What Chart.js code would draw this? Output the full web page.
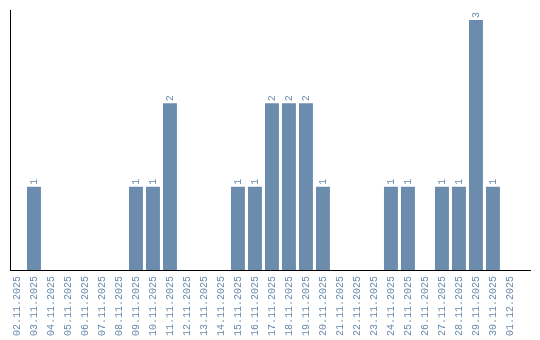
<!DOCTYPE html>
<html>
<head>
<meta charset="utf-8">
<script src="https://cdn.jsdelivr.net/npm/chart.js@4/dist/chart.umd.min.js"></script>
<style>
html,body{margin:0;padding:0;background:#fff;}
#wrap{width:540px;height:340px;position:relative;}
</style>
</head>
<body>
<div id="wrap"><canvas id="c" width="540" height="340"></canvas></div>
<script>
const categories = ["02.11.2025","03.11.2025","04.11.2025","05.11.2025","06.11.2025","07.11.2025","08.11.2025","09.11.2025","10.11.2025","11.11.2025","12.11.2025","13.11.2025","14.11.2025","15.11.2025","16.11.2025","17.11.2025","18.11.2025","19.11.2025","20.11.2025","21.11.2025","22.11.2025","23.11.2025","24.11.2025","25.11.2025","26.11.2025","27.11.2025","28.11.2025","29.11.2025","30.11.2025","01.12.2025"];
const counts = [0,1,0,0,0,0,0,1,1,2,0,0,0,1,1,2,2,2,1,0,0,0,1,1,0,1,1,3,1,0];

const BAR = '#6b8cad';
const TXT = '#6a8aab';
const FONT = '10px "Liberation Mono", monospace';

const valueLabels = {
  id: 'valueLabels',
  afterDatasetsDraw(chart) {
    const ctx = chart.ctx;
    const meta = chart.getDatasetMeta(0);
    ctx.save();
    ctx.font = FONT;
    ctx.fillStyle = TXT;
    ctx.textAlign = 'left';
    ctx.textBaseline = 'middle';
    meta.data.forEach((bar, i) => {
      const v = counts[i];
      if (!v) return;
      ctx.save();
      ctx.translate(bar.x, bar.y - 2);
      ctx.rotate(-Math.PI / 2);
      ctx.fillText(String(v), 0, 0);
      ctx.restore();
    });
    ctx.restore();
  }
};

new Chart(document.getElementById('c'), {
  type: 'bar',
  data: {
    datasets: [{
      data: counts.map((v, i) => ({ x: i, y: v })),
      backgroundColor: BAR,
      borderWidth: 0,
      barPercentage: 0.82,
      categoryPercentage: 1
    }]
  },
  plugins: [valueLabels],
  options: {
    responsive: false,
    animation: false,
    layout: { padding: { left: 10, right: 10, top: 10, bottom: 0 } },
    plugins: { legend: { display: false }, tooltip: { enabled: false } },
    scales: {
      x: {
        type: 'linear',
        offset: false,
        min: -0.41,
        max: 30.18,
        grid: { display: false, drawTicks: false, offset: false },
        border: { display: true, color: '#000', width: 1 },
        afterBuildTicks(scale) {
          scale.ticks = categories.map((_, i) => ({ value: i }));
        },
        afterFit(scale) {
          scale.height = 70;
          scale.paddingLeft = 0;
          scale.paddingRight = 0;
        },
        ticks: {
          autoSkip: false,
          minRotation: 90,
          maxRotation: 90,
          padding: 6,
          color: TXT,
          font: { family: '"Liberation Mono", monospace', size: 10 },
          callback: (v) => categories[v] !== undefined ? categories[v] : ''
        }
      },
      y: {
        min: 0,
        max: 3.12,
        grid: { display: false, drawTicks: false },
        border: { display: true, color: '#000', width: 1 },
        ticks: { display: false },
        afterFit(scale) {
          scale.width = 0;
          scale.paddingTop = 0;
          scale.paddingBottom = 0;
        }
      }
    }
  }
});
</script>
</body>
</html>
